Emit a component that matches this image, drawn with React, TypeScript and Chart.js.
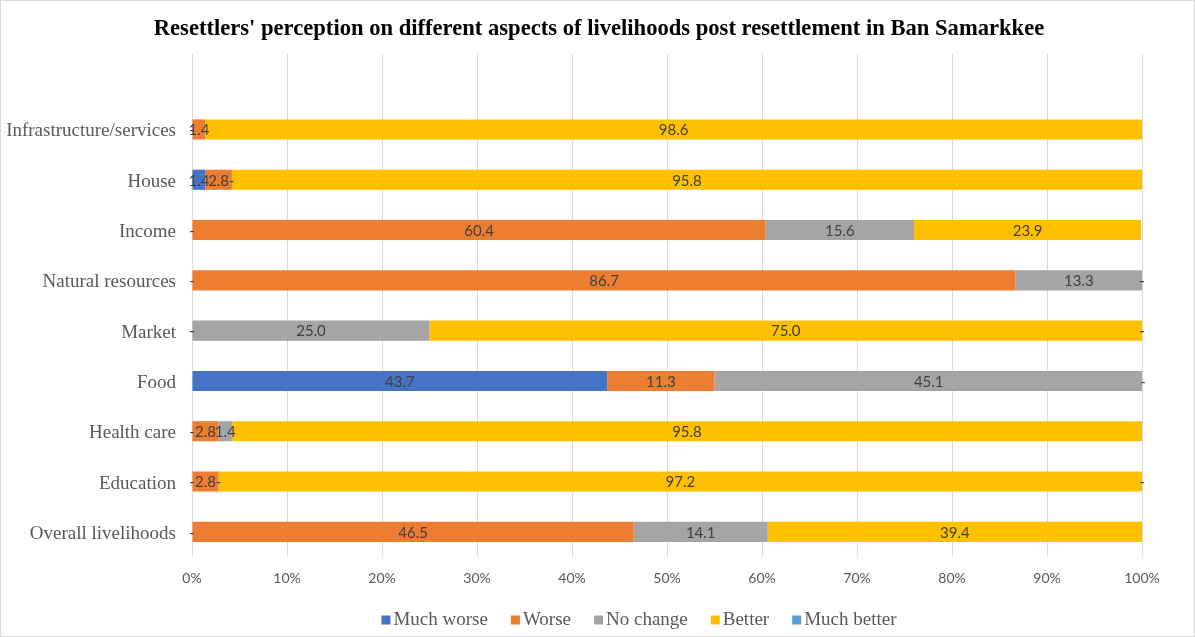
import React, { useEffect, useRef } from "react";
import { Chart, registerables } from "chart.js";

Chart.register(...registerables);

const categories = ["", "Infrastructure/services", "House", "Income", "Natural resources", "Market", "Food", "Health care", "Education", "Overall livelihoods"];
const muchWorse = [null, 0, 1.4, 0, 0, 0, 43.7, 0, 0, 0];
const worse = [null, 1.4, 2.8, 60.4, 86.7, 0, 11.3, 2.8, 2.8, 46.5];
const noChange = [null, null, 0, 15.6, 13.3, 25.0, 45.1, 1.4, 0, 14.1];
const better = [null, 98.6, 95.8, 23.9, 0, 75.0, 0, 95.8, 97.2, 39.4];
const muchBetter = [null, null, null, null, null, 0, null, null, 0, null];
const xTicks = [0, 10, 20, 30, 40, 50, 60, 70, 80, 90, 100];

const titleText = "Resettlers' perception on different aspects of livelihoods post resettlement in Ban Samarkkee";
const seriesNames = ["Much worse", "Worse", "No change", "Better", "Much better"];
const seriesColors = ["#4472C4", "#ED7D31", "#A5A5A5", "#FFC000", "#5B9BD5"];

const labelPlugin = {
  id: "valueLabels",
  afterDatasetsDraw(chart: any) {
    const ctx = chart.ctx;
    ctx.save();
    ctx.font = "15px Lato";
    ctx.fillStyle = "#404040";
    ctx.textAlign = "center";
    ctx.textBaseline = "middle";
    chart.data.datasets.forEach((ds: any, i: number) => {
      const meta = chart.getDatasetMeta(i);
      meta.data.forEach((el: any, j: number) => {
        const v = ds.data[j];
        if (v === null || v === undefined) return;
        const txt = v === 0 ? "-" : v.toFixed(1);
        const cx = (el.x + el.base) / 2;
        ctx.fillText(txt, cx, el.y + 1);
      });
    });
    ctx.restore();
  },
};

const framePlugin = {
  id: "frame",
  beforeDraw(chart: any) {
    const ctx = chart.ctx;
    ctx.save();
    ctx.fillStyle = "#ffffff";
    ctx.fillRect(0, 0, chart.width, chart.height);
    ctx.strokeStyle = "#d9d9d9";
    ctx.lineWidth = 1;
    ctx.strokeRect(0.5, 0.5, chart.width - 1, chart.height - 1);
    ctx.restore();
  },
  afterDraw(chart: any) {
    const ctx = chart.ctx;
    ctx.save();
    // title
    ctx.font = "bold 22.6px 'Liberation Serif'";
    ctx.fillStyle = "#000000";
    ctx.textAlign = "center";
    ctx.textBaseline = "middle";
    ctx.fillText(titleText, 599, 29);
    // legend
    ctx.font = "19px 'Liberation Serif'";
    ctx.textAlign = "left";
    const box = 9;
    const gapBoxText = 3;
    const gapItems = 23;
    const widths = seriesNames.map((n) => ctx.measureText(n).width);
    const total = widths.reduce((a, w) => a + box + gapBoxText + w, 0) + gapItems * (seriesNames.length - 1);
    let x = 639 - total / 2;
    const cy = 620;
    seriesNames.forEach((n, i) => {
      ctx.fillStyle = seriesColors[i];
      ctx.fillRect(x, cy - box / 2, box, box);
      ctx.fillStyle = "#595959";
      ctx.fillText(n, x + box + gapBoxText, cy);
      x += box + gapBoxText + widths[i] + gapItems;
    });
    ctx.restore();
  },
};

export default function App() {
  const ref = useRef<HTMLCanvasElement | null>(null);
  useEffect(() => {
    document.body.style.margin = "0";
    const datasets = [muchWorse, worse, noChange, better, muchBetter].map((d, i) => ({
      label: seriesNames[i],
      data: d,
      backgroundColor: seriesColors[i],
      borderWidth: 0,
      barPercentage: 0.4,
      categoryPercentage: 1,
    }));
    const chart = new Chart(ref.current as HTMLCanvasElement, {
      type: "bar",
      data: { labels: categories, datasets },
      plugins: [framePlugin, labelPlugin],
      options: {
        indexAxis: "y",
        animation: false,
        responsive: false,
        maintainAspectRatio: false,
        layout: { padding: { left: 0, right: 53, top: 54, bottom: 42 } },
        plugins: {
          title: { display: false },
          legend: { display: false },
          tooltip: { enabled: false },
        },
        scales: {
          x: {
            stacked: true,
            min: 0,
            max: 100,
            afterBuildTicks(scale: any) {
              scale.ticks = xTicks.map((v) => ({ value: v }));
            },
            ticks: {
              callback: (v: any) => v + "%",
              color: "#595959",
              font: { family: "Lato", size: 14 },
              padding: 13,
              maxRotation: 0,
            },
            grid: { color: "#d9d9d9", drawTicks: false, lineWidth: 1 },
            border: { display: false },
            afterFit(scale: any) {
              scale.height = 38;
            },
          },
          y: {
            stacked: true,
            ticks: {
              color: "#595959",
              font: { family: "Liberation Serif", size: 19 },
              padding: 16,
              labelOffset: 2,
              autoSkip: false,
            },
            grid: { display: false, drawTicks: false },
            border: { display: false },
            afterFit(scale: any) {
              scale.width = 192;
            },
          },
        },
      },
    } as any);
    return () => chart.destroy();
  }, []);
  return (
    <div style={{ position: "absolute", left: 0, top: 0, width: 1195, height: 637 }}>
      <canvas ref={ref} width={1195} height={637} style={{ display: "block" }} />
    </div>
  );
}
